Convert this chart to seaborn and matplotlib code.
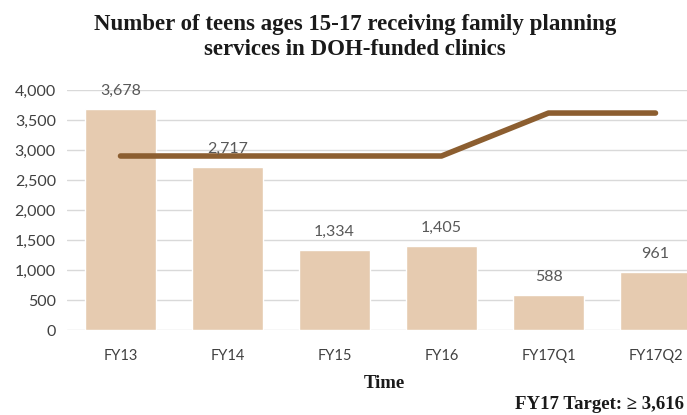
import matplotlib
matplotlib.use("Agg")
import matplotlib.pyplot as plt
import seaborn as sns
import pandas as pd

categories = ["FY13", "FY14", "FY15", "FY16", "FY17Q1", "FY17Q2"]
teens = [3678, 2717, 1334, 1405, 588, 961]
target = [2900, 2900, 2900, 2900, 3616, 3616]
yticks = [0, 500, 1000, 1500, 2000, 2500, 3000, 3500, 4000]

df = pd.DataFrame({"Time": categories, "Teens": teens, "Target": target})

sns.set_theme(style="white")
plt.rcParams["font.family"] = ["Lato", "DejaVu Sans"]

fig = plt.figure(figsize=(6.87, 4.15), dpi=100)
ax = fig.add_axes([67/687, 1 - 330/415, 642/687, 240/415])

sns.barplot(data=df, x="Time", y="Teens", color="#E6CBB0", saturation=1,
            width=0.67, ax=ax, zorder=2)
sns.lineplot(data=df, x="Time", y="Target", color="#8C5E30", linewidth=4.0,
             ax=ax, zorder=3, solid_capstyle="round")

for i, v in enumerate(teens):
    ax.annotate(f"{v:,}", (i, v), xytext=(0, 8), textcoords="offset points",
                ha="center", va="bottom", fontsize=11.5, color="#595959")

ax.set_ylim(0, 4000)
ax.set_xlim(-0.5, 5.5)
ax.set_yticks(yticks)
ax.set_yticklabels([f"{t:,}" for t in yticks], fontsize=11.5, color="#404040")
ax.tick_params(axis="x", labelsize=10.5, colors="#404040", length=0, pad=14)
ax.tick_params(axis="y", length=0, pad=8)
ax.grid(axis="y", color="#D9D9D9", linewidth=1, zorder=0)
ax.set_axisbelow(True)
for s in ax.spines.values():
    s.set_visible(False)
ax.set_xlabel("")
ax.set_ylabel("")

serif = ["Liberation Serif", "DejaVu Serif"]
fig.text(355/687, 1 - 37/415, "Number of teens ages 15-17 receiving family planning\nservices in DOH-funded clinics",
         ha="center", va="center", fontsize=16.5, fontweight="bold",
         family=serif, color="#1a1a1a", linespacing=1.3)
fig.text(384/687, 1 - 383/415, "Time", ha="center", va="center", fontsize=13.5,
         fontweight="bold", family=serif, color="#1a1a1a")
fig.text(684/687, 1 - 404/415, "FY17 Target: \u2265 3,616", ha="right", va="center",
         fontsize=13.5, fontweight="bold", family=serif, color="#1a1a1a")

fig.savefig("out.png", dpi=100)
